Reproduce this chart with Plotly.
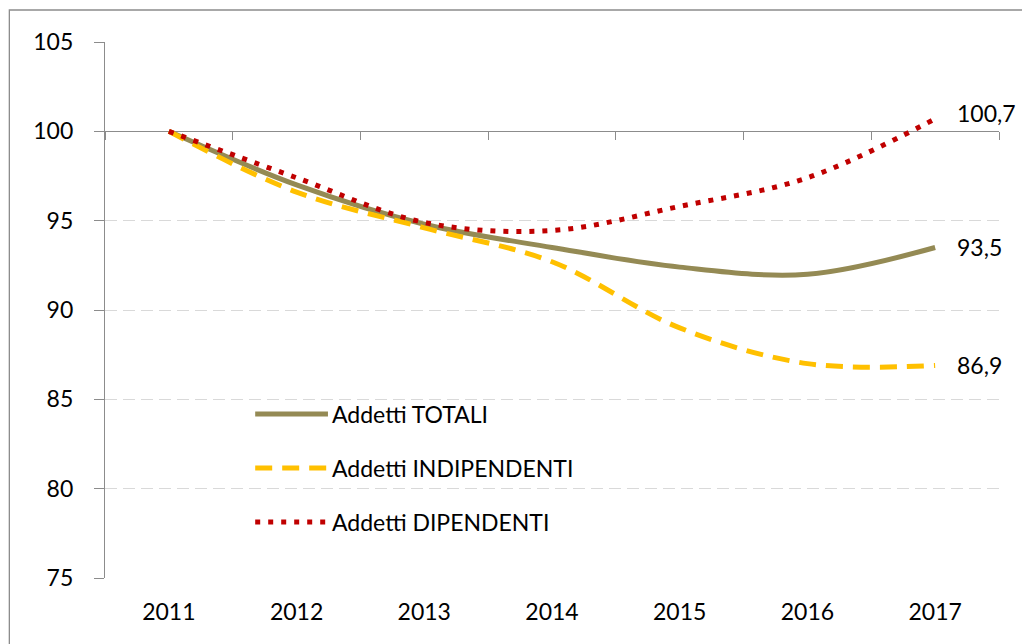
import plotly.graph_objects as go

years = [2011, 2012, 2013, 2014, 2015, 2016, 2017]
totali = [100, 97.0, 94.8, 93.5, 92.4, 92.0, 93.5]
indipendenti = [100, 96.6, 94.6, 92.7, 89.0, 87.0, 86.9]
dipendenti = [100, 97.4, 94.9, 94.45, 95.8, 97.4, 100.7]

names = ["Addetti TOTALI", "Addetti INDIPENDENTI", "Addetti DIPENDENTI"]
series = [totali, indipendenti, dipendenti]
colors = ["#948A54", "#FFC000", "#C00000"]
dashes = ["solid", "17px,10px", "5px,8px"]
y_ticks = [75, 80, 85, 90, 95, 100, 105]
label_yshift = [0, 0, 6]

FONT = "Lato, 'Liberation Sans', Arial, sans-serif"
FS = 23

fig = go.Figure()
# empty helper trace so the crossing category axis (x2) gets drawn
fig.add_trace(go.Scatter(x=[], y=[], xaxis="x2", yaxis="y", mode="lines",
                         hoverinfo="skip", showlegend=False))
for name, vals, col, dsh in zip(names, series, colors, dashes):
    fig.add_trace(go.Scatter(
        x=years, y=vals, mode="lines", name=name, xaxis="x", yaxis="y",
        line=dict(color=col, width=5, dash=dsh, shape="spline", smoothing=1.0),
        hoverinfo="skip", showlegend=False,
    ))

# end-of-line value labels
for vals, ys in zip(series, label_yshift):
    fig.add_annotation(
        x=years[-1], y=vals[-1], xref="x", yref="y",
        text=f"{vals[-1]:.1f}".replace(".", ","),
        showarrow=False, xanchor="left", yanchor="middle",
        xshift=20, yshift=ys,
        font=dict(family=FONT, size=FS, color="#000000"),
    )

# manual legend (line samples + labels)
leg_rows = [0.306, 0.205, 0.1045]
for name, col, dsh, ry in zip(names, colors, dashes, leg_rows):
    fig.add_shape(type="line", xref="paper", yref="paper",
                  x0=0.168, x1=0.2494, y0=ry, y1=ry,
                  line=dict(color=col, width=5, dash=dsh))
    fig.add_annotation(
        x=0.252, y=ry, xref="paper", yref="paper", text=name,
        showarrow=False, xanchor="left", yanchor="middle",
        font=dict(family=FONT, size=FS, color="#000000"),
    )

# outer chart border
fig.add_shape(type="rect", xref="paper", yref="paper",
              x0=-0.107, x1=1.04, y0=-0.14, y1=1.0597,
              line=dict(color="#8C8C8C", width=1.3), layer="below")

x_bounds = [y - 0.5 for y in years] + [years[-1] + 0.5]
xr = [years[0] - 0.5, years[-1] + 0.5]
yr = [y_ticks[0], y_ticks[-1]]
cross_pos = (100 - yr[0]) / (yr[1] - yr[0])

fig.update_layout(
    width=1022, height=644,
    margin=dict(l=105, r=23, t=42, b=66),
    paper_bgcolor="white", plot_bgcolor="white",
    font=dict(family=FONT, size=FS, color="#000000"),
    xaxis=dict(
        range=xr, tickvals=years, ticktext=[str(y) for y in years],
        showgrid=False, zeroline=False, showline=False, ticks="",
        ticklabelstandoff=18,
        tickfont=dict(family=FONT, size=FS, color="#000000"),
    ),
    xaxis2=dict(
        overlaying="x", anchor="free", position=cross_pos, side="bottom",
        range=xr, tickvals=x_bounds, showticklabels=False,
        showgrid=False, zeroline=False,
        showline=True, linecolor="#8C8C8C", linewidth=1.3,
        ticks="outside", ticklen=8, tickcolor="#8C8C8C", tickwidth=1.3,
        layer="below traces",
    ),
    yaxis=dict(
        range=yr, tickvals=y_ticks,
        showgrid=True, gridcolor="#D9D9D9", gridwidth=1.3, griddash="12px,6px",
        zeroline=False, showline=True, linecolor="#8C8C8C", linewidth=1.3,
        ticks="outside", ticklen=10, tickcolor="#8C8C8C", tickwidth=1.3,
        ticklabelstandoff=16,
        tickfont=dict(family=FONT, size=FS, color="#000000"),
    ),
)

fig.write_html(
    "out.html",
    config={"displayModeBar": False},
    post_script="document.body.style.margin='0';document.body.style.overflow='hidden';",
)
